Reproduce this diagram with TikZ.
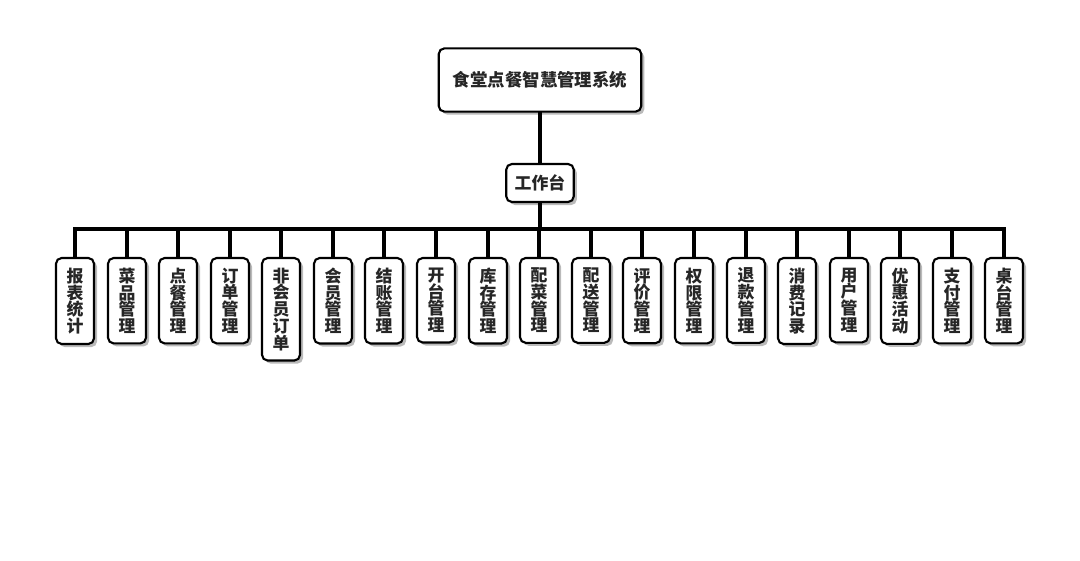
\documentclass[tikz,border=0pt]{standalone}
\usepackage{fontspec}
\setmainfont{Noto Sans CJK SC}
\usepackage{tikz}
\usetikzlibrary{shadows}

\begin{document}
\begin{tikzpicture}[x=0.025cm, y=-0.025cm,
  every node/.style={draw, line width=1.5pt, rounded corners=4pt, fill=white, outer sep=0pt,
    drop shadow={shadow xshift=2.2pt, shadow yshift=-2.2pt, opacity=0.45, fill=black!60},
    font=\bfseries\fontsize{12}{11.9}\selectfont, text=black!85},
  leaf/.style={anchor=north, align=center, minimum width=27pt, inner xsep=2pt, inner ysep=7pt},
  link/.style={line width=2.5pt}]
\useasboundingbox (0,0) rectangle (1080,560);

\node[minimum width=144pt, minimum height=45pt, font=\bfseries\fontsize{12.4}{14}\selectfont] (root) at (540,80) {食堂点餐智慧管理系统};
\node[minimum width=48pt, minimum height=27pt] (work) at (540,183) {工作台};

\node[leaf] (l1) at (75,258) {报\\表\\统\\计};
\node[leaf] (l2) at (127,258) {菜\\品\\管\\理};
\node[leaf] (l3) at (178,258) {点\\餐\\管\\理};
\node[leaf] (l4) at (230,258) {订\\单\\管\\理};
\node[leaf] (l5) at (281,258) {非\\会\\员\\订\\单};
\node[leaf] (l6) at (333,258) {会\\员\\管\\理};
\node[leaf] (l7) at (384,258) {结\\账\\管\\理};
\node[leaf] (l8) at (436,258) {开\\台\\管\\理};
\node[leaf] (l9) at (488,258) {库\\存\\管\\理};
\node[leaf] (l10) at (539,258) {配\\菜\\管\\理};
\node[leaf] (l11) at (591,258) {配\\送\\管\\理};
\node[leaf] (l12) at (642,258) {评\\价\\管\\理};
\node[leaf] (l13) at (694,258) {权\\限\\管\\理};
\node[leaf] (l14) at (746,258) {退\\款\\管\\理};
\node[leaf] (l15) at (797,258) {消\\费\\记\\录};
\node[leaf] (l16) at (849,258) {用\\户\\管\\理};
\node[leaf] (l17) at (900,258) {优\\惠\\活\\动};
\node[leaf] (l18) at (952,258) {支\\付\\管\\理};
\node[leaf] (l19) at (1004,258) {桌\\台\\管\\理};

\draw[link] (root) -- (work);
\draw[link] (work.south) -- ++(0,27) -| (l1.north);
\draw[link] (work.south) -- ++(0,27) -| (l2.north);
\draw[link] (work.south) -- ++(0,27) -| (l3.north);
\draw[link] (work.south) -- ++(0,27) -| (l4.north);
\draw[link] (work.south) -- ++(0,27) -| (l5.north);
\draw[link] (work.south) -- ++(0,27) -| (l6.north);
\draw[link] (work.south) -- ++(0,27) -| (l7.north);
\draw[link] (work.south) -- ++(0,27) -| (l8.north);
\draw[link] (work.south) -- ++(0,27) -| (l9.north);
\draw[link] (work.south) -- ++(0,27) -| (l10.north);
\draw[link] (work.south) -- ++(0,27) -| (l11.north);
\draw[link] (work.south) -- ++(0,27) -| (l12.north);
\draw[link] (work.south) -- ++(0,27) -| (l13.north);
\draw[link] (work.south) -- ++(0,27) -| (l14.north);
\draw[link] (work.south) -- ++(0,27) -| (l15.north);
\draw[link] (work.south) -- ++(0,27) -| (l16.north);
\draw[link] (work.south) -- ++(0,27) -| (l17.north);
\draw[link] (work.south) -- ++(0,27) -| (l18.north);
\draw[link] (work.south) -- ++(0,27) -| (l19.north);
\end{tikzpicture}
\end{document}
